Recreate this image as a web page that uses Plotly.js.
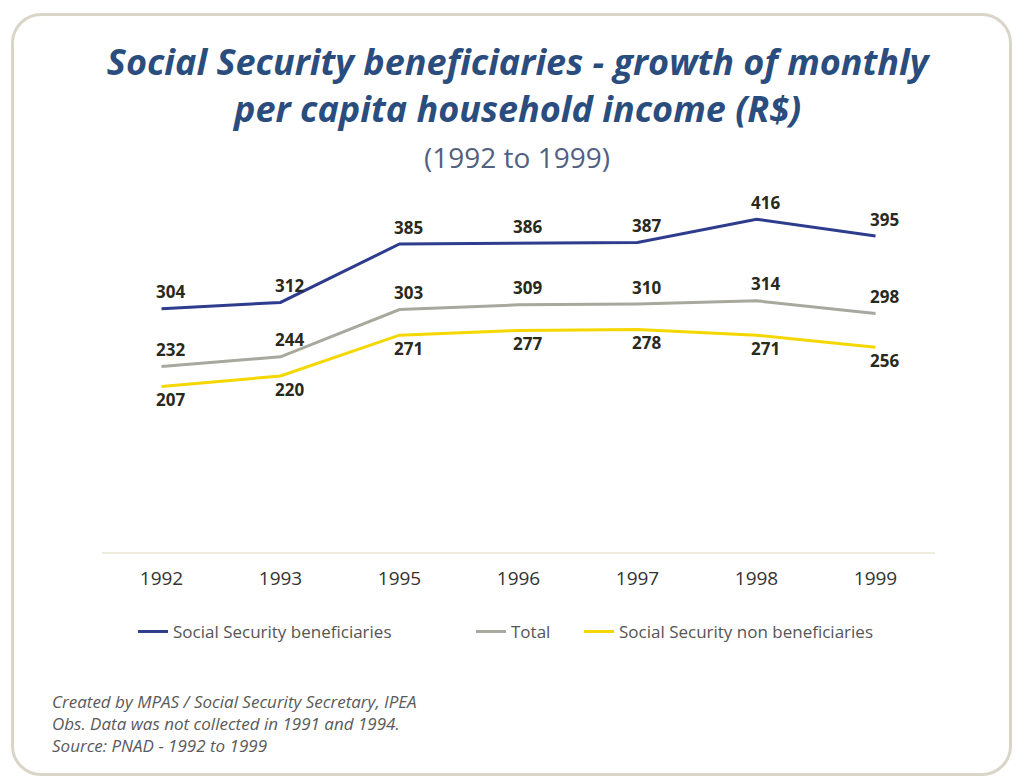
<!DOCTYPE html>
<html>
<head>
<meta charset="utf-8">
<script src="https://cdn.plot.ly/plotly-3.0.1.min.js"></script>
<style>
  html, body { margin: 0; padding: 0; background: #ffffff; }
  #frame { position: absolute; left: 11px; top: 13px; width: 995px; height: 757px;
           border: 3px solid #d9d5c8; border-radius: 30px; pointer-events: none; }
  #chart { position: absolute; left: 0; top: 0; width: 1017px; height: 778px; }
</style>
</head>
<body>
<div id="chart"></div>
<div id="frame"></div>
<script>
// ---- data ----
var years = ["1992", "1993", "1995", "1996", "1997", "1998", "1999"];
var beneficiaries = [304, 312, 385, 386, 387, 416, 395];
var total = [232, 244, 303, 309, 310, 314, 298];
var nonBeneficiaries = [207, 220, 271, 277, 278, 271, 256];
var seriesNames = ["Social Security beneficiaries", "Total", "Social Security non beneficiaries"];

// ---- styles ----
var seriesStyle = [
  { values: beneficiaries, color: "#2d3c8c", legend: "legend", labelShift: 17 },
  { values: total, color: "#a8a89f", legend: "legend2", labelShift: 17 },
  { values: nonBeneficiaries, color: "#f5d700", legend: "legend3", labelShift: -13 }
];

var traces = seriesStyle.map(function (s, i) {
  return {
    type: "scatter", mode: "lines", x: years, y: s.values, name: seriesNames[i],
    line: { color: s.color, width: 3 }, legend: s.legend, hoverinfo: "skip"
  };
});

var annotations = [];
seriesStyle.forEach(function (s) {
  s.values.forEach(function (v, j) {
    annotations.push({
      // category axis: position by category index
      x: j, y: v, xref: "x", yref: "y", text: String(v), showarrow: false,
      xanchor: "center", yanchor: "middle", xshift: 9, yshift: s.labelShift,
      font: { family: "Open Sans", size: 17, weight: "bold", color: "#2a2a1c" }
    });
  });
});

annotations.push({
  xref: "paper", yref: "paper", x: (517 - 102) / 833, y: (552 - 157) / 360,
  text: "(1992 to 1999)", showarrow: false, xanchor: "center", yanchor: "middle",
  font: { family: "Open Sans", size: 28, color: "#51617f" }
});
annotations.push({
  xref: "paper", yref: "paper", x: 0, y: 0, xshift: -52, yshift: -136,
  text: "Created by MPAS / Social Security Secretary, IPEA<br>Obs. Data was not collected in 1991 and 1994.<br>Source: PNAD - 1992 to 1999",
  showarrow: false, xanchor: "left", yanchor: "top", align: "left",
  font: { family: "Open Sans", size: 17, style: "italic", color: "#5a5a5a" }
});

function legendAt(px) {
  return {
    orientation: "h", x: (px - 102) / 833, xanchor: "left", y: -0.222, yanchor: "middle",
    bgcolor: "rgba(0,0,0,0)", font: { family: "Open Sans", size: 17, color: "#555555" }
  };
}

var layout = {
  width: 1017, height: 778,
  paper_bgcolor: "rgba(0,0,0,0)", plot_bgcolor: "rgba(0,0,0,0)",
  margin: { l: 102, r: 82, t: 192, b: 226 },
  title: {
    text: "Social Security beneficiaries - growth of monthly<br>per capita household income (R$)",
    x: 0.509, xanchor: "center", xref: "container", y: 0.903, yanchor: "top", yref: "container",
    font: { family: "Open Sans", size: 36, weight: "bold", style: "italic", color: "#2b4d7d" }
  },
  xaxis: {
    type: "category", range: [-0.5, 6.5], showgrid: false, zeroline: false,
    showline: true, linecolor: "#f0eddf", linewidth: 2, ticks: "",
    ticklabelstandoff: 8,
    tickfont: { family: "Open Sans", size: 19, color: "#333333" }
  },
  yaxis: {
    range: [0, 450], visible: false, showgrid: false, zeroline: false
  },
  showlegend: true,
  legend: legendAt(133),
  legend2: legendAt(471),
  legend3: legendAt(579),
  annotations: annotations
};

Plotly.newPlot("chart", traces, layout, { displayModeBar: false, staticPlot: true });
</script>
</body>
</html>
